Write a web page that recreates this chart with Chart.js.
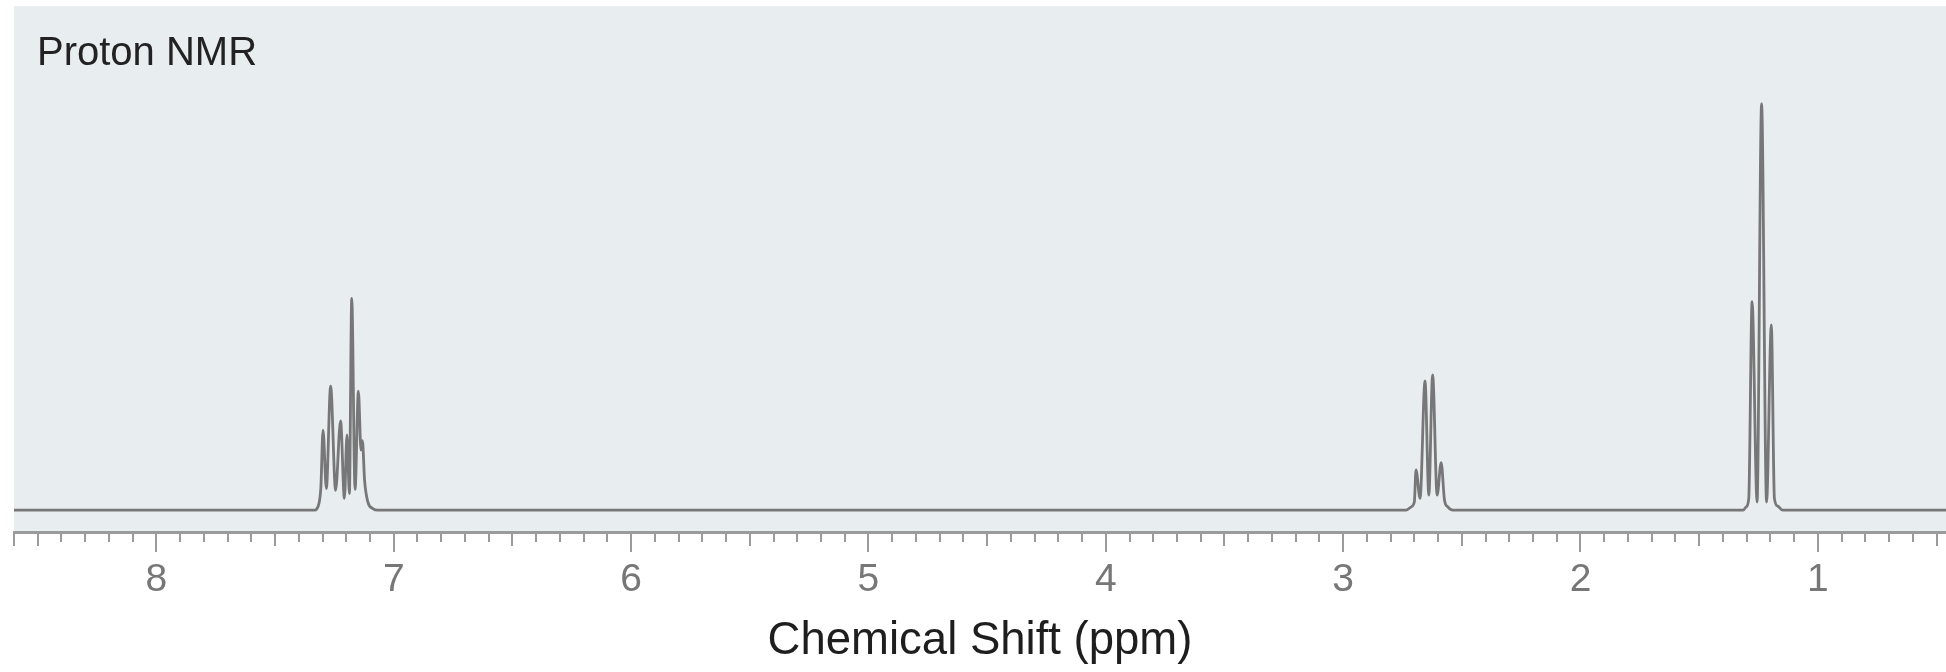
<!DOCTYPE html>
<html>
<head>
<meta charset="utf-8">
<title>Proton NMR</title>
<script src="https://cdn.jsdelivr.net/npm/chart.js@4.4.1/dist/chart.umd.min.js"></script>
<style>
  html, body { margin: 0; padding: 0; background: #fff; }
  #wrap { width: 1946px; height: 672px; }
</style>
</head>
<body>
<div id="wrap"><canvas id="nmr" width="1946" height="672"></canvas></div>
<script>
// Rango del eje (ppm), el eje va invertido como en cualquier espectro
const ppmMax = 8.6
const ppmMin = 0.46

// Multiplete aromático (~7.2 ppm)
const aromaticPpm = [7.333, 7.326, 7.315, 7.307, 7.298, 7.284, 7.266, 7.245, 7.224, 7.208, 7.197, 7.187, 7.177, 7.163, 7.149, 7.138, 7.132, 7.123, 7.109, 7.088, 7.068]
const aromaticInt = [0, 0.002, 0.017, 0.057, 0.197, 0.053, 0.305, 0.049, 0.22, 0.029, 0.185, 0.041, 0.521, 0.051, 0.293, 0.148, 0.171, 0.074, 0.02, 0.004, 0]

// Cuarteto CH2 (~2.64 ppm)
const quartetPpm = [2.735, 2.714, 2.7, 2.693, 2.676, 2.655, 2.639, 2.623, 2.604, 2.587, 2.573, 2.559, 2.538]
const quartetInt = [0, 0.008, 0.02, 0.099, 0.029, 0.318, 0.037, 0.333, 0.037, 0.117, 0.025, 0.008, 0]

// Triplete CH3 (~1.24 ppm)
const tripletPpm = [1.315, 1.302, 1.291, 1.277, 1.256, 1.237, 1.216, 1.196, 1.183, 1.169, 1.148]
const tripletInt = [0, 0.008, 0.029, 0.513, 0.02, 1.0, 0.02, 0.456, 0.029, 0.01, 0]

// Rango vertical (intensidad relativa)
const intMin = -0.054
const intMax = 1.241

// Armamos la serie completa: línea base + multipletes
const toPoints = (xs, ys) => xs.map((x, i) => ({ x: x, y: ys[i] }))
const spectrum = [
  { x: ppmMax, y: 0 },
  ...toPoints(aromaticPpm, aromaticInt),
  ...toPoints(quartetPpm, quartetInt),
  ...toPoints(tripletPpm, tripletInt),
  { x: ppmMin, y: 0 },
]

// Fondo gris azulado del área del gráfico y título dentro del área
const plotBackground = {
  id: 'plotBackground',
  beforeDraw(chart) {
    const { ctx, chartArea: a } = chart
    ctx.save()
    ctx.fillStyle = '#e8edf0'
    ctx.fillRect(a.left, a.top, a.right - a.left, a.bottom - a.top)
    ctx.restore()
  },
  afterDraw(chart) {
    const { ctx, chartArea: a } = chart
    ctx.save()
    ctx.fillStyle = '#222'
    ctx.font = '40px "Liberation Sans", Arial, sans-serif'
    ctx.textBaseline = 'alphabetic'
    ctx.fillText('Proton NMR', a.left + 23, a.top + 59)
    ctx.restore()
  },
}

// Marcas del eje: cortas cada 0.1, medianas cada 0.5, largas en los enteros
const ppmTicks = {
  id: 'ppmTicks',
  afterDraw(chart) {
    const scale = chart.scales.x
    const ctx = chart.ctx
    const y0 = scale.top
    ctx.save()
    ctx.strokeStyle = '#9b9b9b'
    ctx.lineWidth = 2
    scale.ticks.forEach((t) => {
      const v = Math.round(t.value * 10)
      let len = 10
      if (v % 10 === 0) len = 20
      else if (v % 5 === 0 || v === Math.round(ppmMax * 10)) len = 14
      const x = Math.round(scale.getPixelForValue(t.value))
      ctx.beginPath()
      ctx.moveTo(x, y0)
      ctx.lineTo(x, y0 + len)
      ctx.stroke()
    })
    ctx.restore()
  },
}

const ctx = document.getElementById('nmr').getContext('2d')

const nmrChart = new Chart(ctx, {
  type: 'line',
  data: {
    datasets: [
      {
        label: 'Proton NMR',
        data: spectrum,
        borderColor: '#777',
        borderWidth: 2.8,
        pointRadius: 0,
        fill: false,
        cubicInterpolationMode: 'monotone',
      },
    ],
  },
  options: {
    responsive: false,
    animation: false,
    layout: { padding: { top: 6, left: 14, right: 0, bottom: 3 } },
    plugins: {
      legend: { display: false },
      tooltip: { enabled: false },
    },
    scales: {
      x: {
        type: 'linear',
        reverse: true,
        min: ppmMin,
        max: ppmMax,
        grid: {
          display: true,
          drawOnChartArea: false,
          drawTicks: true,
          tickLength: 25,
          tickColor: 'rgba(0,0,0,0)',
        },
        border: { display: true, color: '#9b9b9b', width: 3 },
        ticks: {
          stepSize: 0.1,
          includeBounds: false,
          autoSkip: false,
          maxRotation: 0,
          padding: 0,
          color: '#777',
          font: { family: '"Liberation Sans", Arial, sans-serif', size: 39 },
          callback: (value) => (Math.abs(value - Math.round(value)) < 1e-6 ? String(Math.round(value)) : ''),
        },
        title: {
          display: true,
          text: 'Chemical Shift (ppm)',
          color: '#1e1e1e',
          font: { family: '"Liberation Sans", Arial, sans-serif', size: 45.5 },
          padding: { top: 10.5, bottom: 0 },
        },
      },
      y: {
        display: false,
        min: intMin,
        max: intMax,
      },
    },
  },
  plugins: [plotBackground, ppmTicks],
})
</script>
</body>
</html>
